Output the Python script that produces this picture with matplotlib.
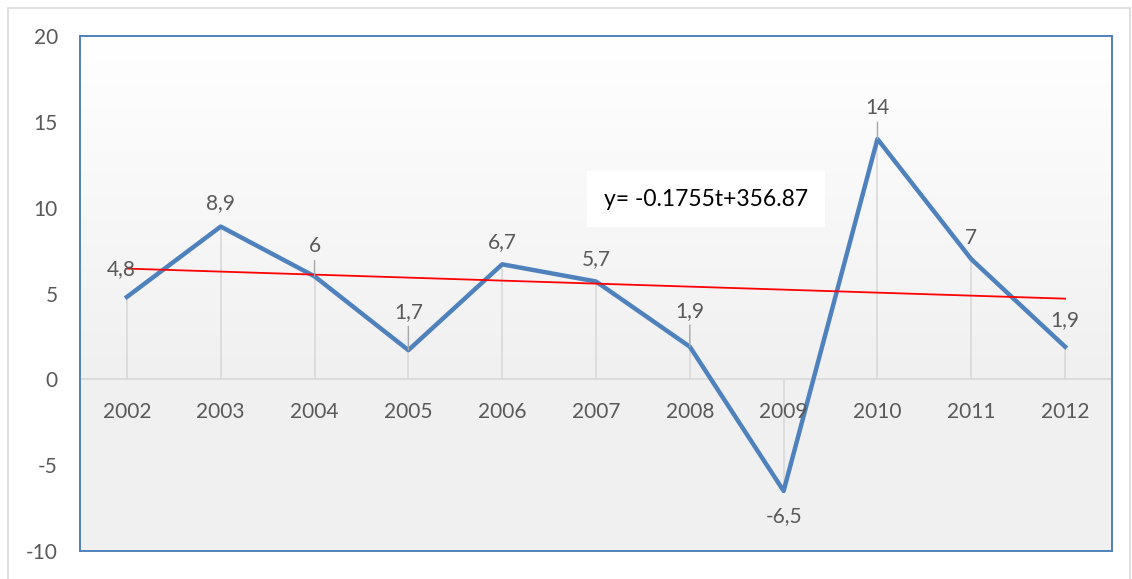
import numpy as np
import matplotlib
matplotlib.use("Agg")
import matplotlib.pyplot as plt
from matplotlib.patches import Rectangle

plt.rcParams['font.family'] = ['Lato', 'DejaVu Sans']

# data
years = ['2002', '2003', '2004', '2005', '2006', '2007', '2008', '2009', '2010', '2011', '2012']
values = [4.8, 8.9, 6, 1.7, 6.7, 5.7, 1.9, -6.5, 14, 7, 1.9]
value_labels = ['4,8', '8,9', '6', '1,7', '6,7', '5,7', '1,9', '-6,5', '14', '7', '1,9']
trend_ends = [6.45, 4.7]
equation = 'y= -0.1755t+356.87'
y_ticks = [-10, -5, 0, 5, 10, 15, 20]

# label offsets in pixels (dx, dy) and which ones get a leader line
label_offsets = [(-6, 28), (0, 23), (0, 30), (0, 38), (0, 22), (0, 22),
                 (0, 36), (0, -25), (0, 31), (0, 21), (0, 27)]
leaders = [False, False, True, True, False, False, True, False, True, False, False]

W, H = 1132, 579
fig = plt.figure(figsize=(W / 100, H / 100), dpi=100)
fig.patch.set_facecolor('white')

# outer chart border
fig.add_artist(Rectangle((8 / W, -0.02), (1130 - 8) / W, (H - 8) / H + 0.02,
                         transform=fig.transFigure, fill=False,
                         edgecolor='#d9d9d9', lw=1.2))

ax = fig.add_axes([80 / W, (H - 551) / H, (1112 - 80) / W, (551 - 36) / H])
x = np.arange(len(years))
ax.set_xlim(-0.5, len(years) - 0.5)
ax.set_ylim(-10, 20)

# gradient background
grad = np.clip(np.linspace(0, 1.6, 256), 0, 1)
top = np.array([1.0, 1.0, 1.0])
bot = np.array([0.945, 0.945, 0.945])
img = top[None, :] * (1 - grad[:, None]) + bot[None, :] * grad[:, None]
ax.imshow(img[:, None, :], extent=[-0.5, len(years) - 0.5, -10, 20],
          aspect='auto', origin='upper', zorder=0)

for s in ax.spines.values():
    s.set_color('#4f81bd')
    s.set_linewidth(1.4)

ax.axhline(0, color='#d9d9d9', lw=1.2, zorder=1)
ax.vlines(x, 0, values, color='#d9d9d9', lw=1.2, zorder=1)

ax.plot(x, values, color='#4f81bd', lw=3.2, zorder=3, solid_joinstyle='round')
ax.plot([x[0], x[-1]], trend_ends, color='#ff0000', lw=1.3, zorder=4)

for i, (v, lab) in enumerate(zip(values, value_labels)):
    dx, dy = label_offsets[i]
    kw = {}
    if leaders[i]:
        kw['arrowprops'] = dict(arrowstyle='-', color='#a6a6a6', lw=1.0,
                                shrinkA=1, shrinkB=0)
    ax.annotate(lab, xy=(i, v), xytext=(dx * 0.72, dy * 0.72),
                textcoords='offset points', ha='center', va='center',
                fontsize=15, color='#595959', zorder=5, **kw)

# category labels just below zero line
for i, yr in enumerate(years):
    ax.annotate(yr, xy=(i, 0), xytext=(0, -33 * 0.72), textcoords='offset points',
                ha='center', va='center', fontsize=15, color='#595959', zorder=5)

ax.set_xticks([])
ax.set_yticks(y_ticks)
ax.set_yticklabels([str(t) for t in y_ticks])
ax.tick_params(axis='y', length=0, pad=16, labelsize=15, labelcolor='#595959')

# equation box
ax.text(6.17, 10.5, equation, ha='center', va='center', fontsize=16.5,
        color='black', zorder=6,
        bbox=dict(boxstyle='square,pad=0.75', facecolor='white', edgecolor='none'))

fig.savefig('out.png', dpi=100)
